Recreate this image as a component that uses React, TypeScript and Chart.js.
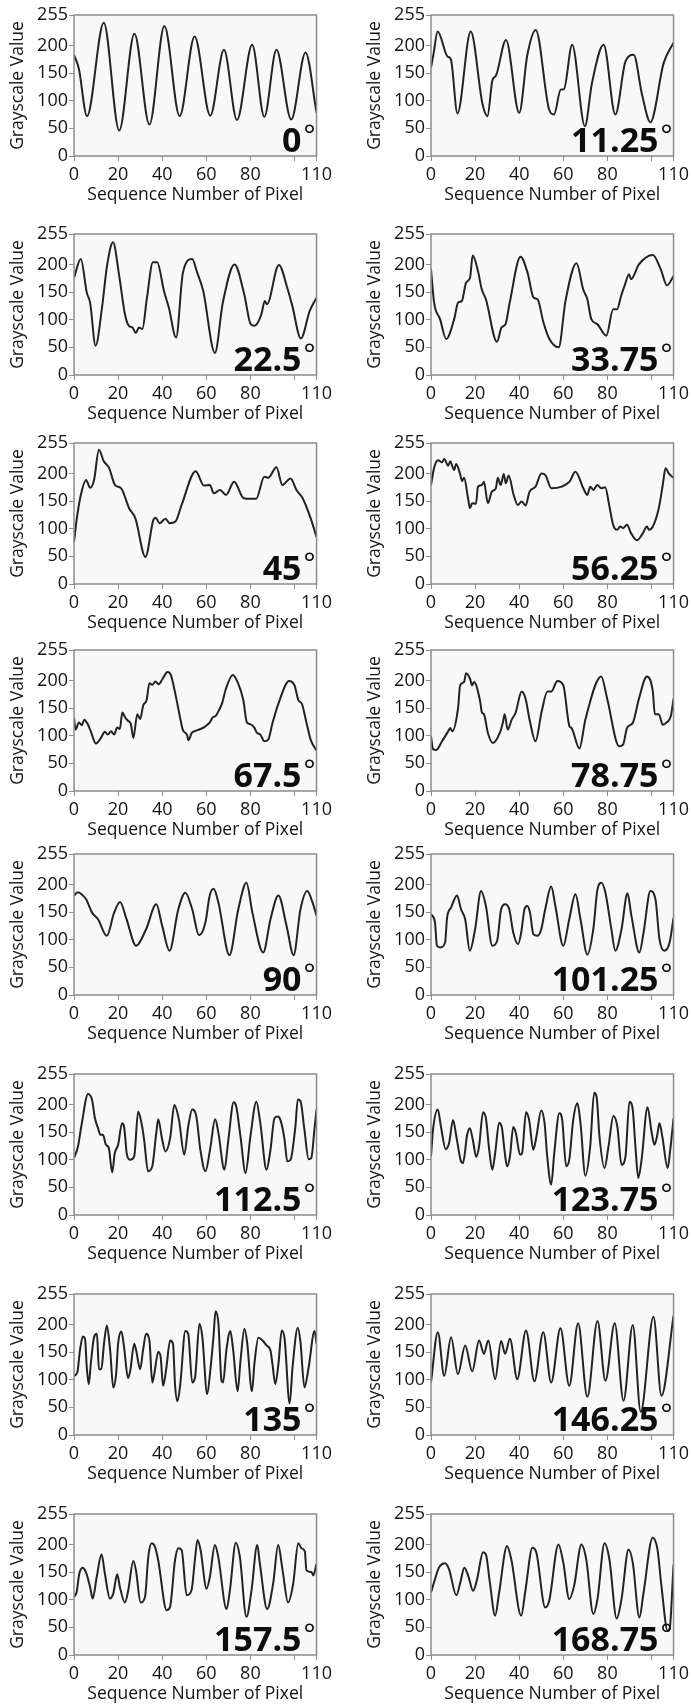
import { useEffect, useRef } from "react";
import { Chart, registerables } from "chart.js";

Chart.register(...registerables);

// ---- data ----
const angleLabels = ["0", "11.25", "22.5", "33.75", "45", "56.25", "67.5", "78.75", "90", "101.25", "112.5", "123.75", "135", "146.25", "157.5", "168.75"];

const xTickValues = [0, 20, 40, 60, 80, 100, 110];
const yTickValues = [0, 50, 100, 150, 200, 255];

const px0 = [0, 2.2, 5.9, 13.5, 20.5, 27.4, 34.2, 41, 47.9, 54.7, 61.8, 68, 73.9, 80.8, 86.3, 91.8, 98.5, 105, 110];
const gv0 = [183, 158, 72, 241, 46, 221, 57, 235, 72, 216, 73, 192, 65, 201, 71, 192, 66, 187, 78];

const px1 = [0, 1.2, 3, 7.5, 9, 12, 18, 23.4, 25.6, 27.9, 29.4, 34, 40, 43.7, 47.5, 53.5, 55.8, 58.8, 60.3, 64, 69.8, 73, 78.3, 83.6, 88.2, 91.9, 95.7, 99.5, 105.5, 110];
const gv1 = [160, 186, 225, 180, 175, 77, 225, 93, 72, 138, 145, 210, 78, 183, 228, 85, 75, 120, 121, 201, 54, 132, 201, 75, 171, 183, 111, 61, 168, 205];

const px2 = [0, 3.1, 5.8, 7.3, 9.8, 12.7, 15, 17.7, 20.4, 23.1, 24.9, 26.5, 28, 29.5, 31, 33, 35.8, 37.7, 40.8, 43, 46.3, 49.4, 53.6, 55.8, 58.6, 63.9, 67.5, 72.8, 77.2, 80.1, 81.9, 85, 86.5, 87.5, 92.9, 96.9, 99, 102.9, 106.9, 110];
const gv2 = [176, 210, 149, 131, 53, 122, 198, 240, 182, 110, 89, 86, 76, 86, 83, 137, 204, 204, 152, 122, 68, 185, 210, 186, 152, 40, 131, 200, 146, 92, 89, 110, 134, 128, 199, 155, 125, 66, 116, 140];

const px3 = [0, 1.4, 4.1, 6.9, 10.5, 12.3, 14, 15.9, 17.7, 18.9, 21.3, 23, 24.9, 29.9, 32, 33.8, 35.7, 40.6, 43.8, 46.5, 48.3, 51, 53.7, 57.9, 61, 66, 69, 70.9, 72.7, 75.4, 79.5, 82.6, 84.4, 86.2, 88, 89.8, 90.7, 94.3, 100.6, 104.2, 107, 110];
const gv3 = [191, 131, 101, 65, 101, 131, 134, 167, 176, 216, 188, 155, 137, 60, 86, 92, 131, 214, 185, 140, 137, 95, 65, 50, 134, 202, 155, 137, 101, 92, 71, 119, 119, 143, 164, 182, 173, 200, 217, 191, 162, 179];

const px4 = [0, 1.3, 3.1, 5.5, 7.3, 9.1, 11.3, 13.5, 15.9, 18.6, 21.4, 25, 27.8, 32.4, 36, 37, 38.8, 41.5, 43.4, 46, 48.8, 55.2, 58.9, 61.6, 63.4, 66.2, 68.9, 72.6, 77, 79.9, 82.6, 86.3, 88.1, 91.8, 94.5, 98.2, 100.9, 103.7, 107.3, 110];
const gv4 = [76, 119, 161, 188, 174, 188, 243, 222, 210, 179, 173, 137, 119, 49, 116, 120, 110, 118, 110, 113, 143, 204, 178, 179, 164, 170, 161, 185, 155, 154, 154, 194, 192, 211, 179, 191, 170, 155, 119, 85];

const px5 = [0, 1.4, 3.2, 5, 6, 7.8, 8.7, 10.5, 11.4, 13.2, 14.1, 15, 16.8, 17.7, 18.6, 20.4, 21.3, 23.1, 24, 25.8, 27.6, 29.4, 30.3, 31.6, 33, 33.9, 35.2, 37.5, 39.3, 41.1, 42.9, 44.7, 47.4, 50.1, 51.9, 54.6, 59.2, 62.8, 65.5, 69.1, 70.9, 72.2, 73.6, 75.4, 77.2, 79, 80.8, 82.6, 84.4, 85.8, 87.1, 88.9, 90.7, 93.4, 96.1, 97.9, 98.8, 100.6, 103.3, 105.1, 106.4, 107.8, 110];
const gv5 = [179, 210, 224, 220, 226, 214, 222, 206, 217, 199, 186, 192, 155, 137, 146, 145, 176, 179, 185, 146, 167, 173, 192, 179, 199, 182, 196, 161, 143, 149, 142, 167, 176, 200, 197, 173, 176, 185, 203, 173, 161, 176, 170, 179, 173, 175, 143, 107, 98, 104, 101, 107, 92, 79, 92, 104, 98, 104, 137, 179, 210, 200, 192];

const px6 = [0, 0.7, 2.2, 3.6, 4.6, 6.2, 7.7, 9.9, 12.2, 14, 15.3, 16.8, 18.2, 19.6, 20.8, 21.9, 23.2, 24.5, 25.8, 26.9, 28.7, 30, 31.4, 32.9, 34.2, 35.5, 36.9, 38.4, 40.2, 42.4, 43.9, 46.1, 47.9, 49.4, 51.2, 51.9, 53.4, 56.1, 58.9, 61.6, 62.9, 64.3, 65.6, 67.1, 68.9, 72, 74.4, 76.8, 78.4, 79.9, 81.7, 83, 84.5, 86.3, 88.1, 89.9, 92.7, 97.6, 100, 101.8, 103.3, 105.4, 107.3, 110];
const gv6 = [133, 111, 124, 119, 129, 121, 107, 86, 96, 107, 102, 108, 102, 115, 112, 142, 133, 127, 121, 96, 139, 130, 155, 164, 195, 192, 198, 193, 203, 215, 210, 173, 137, 110, 102, 92, 105, 110, 115, 124, 133, 136, 145, 158, 185, 210, 195, 164, 124, 121, 115, 105, 102, 90, 93, 121, 158, 199, 191, 164, 158, 124, 93, 73];

const px7 = [0, 0.9, 2.3, 5, 7.8, 8.7, 9.6, 12.3, 13.2, 15, 15.9, 17.7, 18.6, 19.5, 22.2, 23.1, 24, 25.8, 28.1, 31.2, 32.6, 33.4, 34.8, 36.6, 38.4, 41.1, 42.9, 44.7, 47.4, 50.1, 52.8, 54.6, 57.3, 60, 62.8, 63.7, 67.3, 70, 77.2, 79.9, 85.3, 87.1, 88.9, 91.6, 94.3, 97.9, 100.6, 101.5, 103.3, 105.1, 106.9, 108.8, 110];
const gv7 = [99, 76, 74, 90, 108, 114, 108, 151, 191, 197, 213, 203, 191, 197, 164, 142, 139, 105, 87, 105, 124, 139, 111, 129, 142, 180, 167, 129, 90, 142, 180, 180, 199, 191, 117, 114, 77, 129, 207, 167, 81, 84, 114, 124, 167, 207, 180, 139, 139, 120, 124, 136, 167];

const px8 = [0, 1.8, 4, 5.5, 8.2, 10.9, 14.9, 18.2, 20.9, 23.6, 28.2, 32.7, 37.3, 40, 43.3, 47.3, 50.5, 53.6, 56.7, 59.6, 61.5, 63.3, 65.5, 70.5, 74.5, 78.2, 80.9, 85.8, 89.1, 92.7, 96.4, 99.6, 102.7, 105.8, 108.2, 110];
const gv8 = [180, 186, 180, 173, 149, 137, 107, 149, 168, 140, 89, 119, 164, 125, 80, 155, 185, 155, 108, 131, 179, 192, 167, 72, 155, 203, 149, 77, 137, 180, 125, 72, 155, 188, 167, 143];

const px9 = [0, 1.8, 2.7, 4.2, 6.4, 7.3, 9.1, 11.8, 13.6, 15.5, 17.6, 20, 22.7, 24.9, 27.8, 30, 31.8, 33.6, 35.5, 37.3, 39.5, 40.9, 42.4, 43.6, 44.9, 46.4, 48.2, 50, 51.8, 54.5, 56.4, 60, 62.7, 65.5, 67.8, 70.9, 73.6, 75.5, 77.3, 79.1, 81.8, 83.6, 86.4, 89.1, 90.9, 94.5, 96.4, 99.5, 101.8, 103.6, 105.8, 108.2, 110];
const gv9 = [146, 131, 89, 86, 95, 140, 158, 180, 155, 137, 80, 119, 188, 161, 89, 98, 155, 164, 155, 113, 92, 113, 155, 161, 149, 110, 107, 119, 155, 196, 161, 89, 137, 182, 137, 73, 119, 191, 203, 185, 119, 80, 119, 184, 143, 77, 113, 188, 173, 101, 80, 95, 140];

const px10 = [0, 1.8, 3.3, 6.4, 8.2, 9.5, 10.9, 12, 13.1, 14.5, 15.8, 17.3, 18.5, 20, 21.8, 22.7, 24, 25.5, 27.3, 29.1, 30.9, 31.8, 33.6, 35.5, 37.3, 38.2, 40, 41.5, 43.6, 45.5, 47.6, 50, 51.8, 53.6, 55.5, 57.3, 59.6, 61.8, 64, 65.5, 68.2, 70, 72.4, 73.6, 75.5, 77.8, 80, 82.7, 84.5, 87.3, 89.1, 90.9, 92.4, 93.6, 95.5, 96.7, 98.2, 100.4, 101.5, 102.7, 104.5, 106.4, 107.6, 109.1, 110];
const gv10 = [103, 124, 160, 219, 208, 175, 157, 145, 145, 127, 121, 77, 112, 127, 166, 160, 109, 100, 106, 187, 160, 136, 79, 88, 148, 173, 136, 115, 139, 199, 172, 109, 160, 191, 178, 118, 79, 121, 173, 148, 82, 136, 204, 196, 142, 76, 142, 205, 166, 82, 118, 175, 178, 172, 136, 97, 100, 160, 209, 206, 154, 101, 103, 157, 191];

const px11 = [0, 0.9, 3.1, 4.5, 6.7, 8.2, 10, 11.5, 13.6, 14.5, 16.4, 17.6, 19.1, 20.5, 21.8, 23.6, 24.9, 26.4, 27.8, 29.1, 30.9, 32.2, 33.3, 34.5, 35.8, 37.3, 38.5, 40.4, 41.3, 43.1, 44.5, 46.4, 47.8, 50, 51.5, 52.7, 54.5, 55.9, 58.2, 59.5, 61.3, 62.7, 64.5, 66.4, 67.8, 70, 72.2, 74, 75.1, 76.4, 78.7, 80.5, 82.7, 84.5, 86.4, 88.2, 90, 91.5, 92.7, 94, 95.5, 98.2, 100, 101.3, 102.5, 103.6, 104.9, 107.3, 108.5, 110];
const gv11 = [106, 154, 191, 160, 119, 130, 172, 142, 97, 94, 145, 157, 133, 105, 124, 186, 175, 118, 82, 112, 167, 157, 118, 88, 106, 159, 148, 109, 112, 186, 172, 118, 142, 189, 166, 106, 55, 112, 184, 172, 88, 100, 172, 202, 166, 71, 124, 221, 214, 142, 85, 124, 179, 160, 91, 106, 205, 190, 124, 67, 100, 195, 151, 127, 142, 166, 142, 85, 118, 175];

const px12 = [0, 1.5, 2.7, 4, 5, 5.8, 6.7, 7.6, 9.1, 10.4, 11.3, 12.4, 13.6, 14.9, 16.4, 17.8, 19.1, 20, 21.5, 22.7, 24.5, 25.5, 27.3, 28.2, 30, 31.3, 32.7, 34.2, 35.5, 36.4, 38.2, 39.3, 40.4, 41.8, 43.6, 44.9, 45.8, 46.9, 48.2, 50.5, 51.8, 53.6, 54.9, 56.9, 58.2, 60.4, 61.8, 63.3, 64.2, 65.5, 66.9, 67.6, 69.1, 70.9, 72.2, 74.2, 75.5, 77.3, 78.5, 80.7, 81.8, 83.6, 85.5, 87.3, 89.1, 90, 91.3, 92.7, 94.2, 95.5, 97.8, 99.1, 101.5, 102.7, 104.5, 106.4, 109.1, 110];
const gv12 = [107, 113, 153, 178, 174, 122, 92, 128, 177, 183, 119, 119, 165, 198, 153, 86, 110, 165, 187, 159, 103, 116, 165, 153, 119, 153, 183, 171, 95, 110, 150, 141, 89, 119, 171, 165, 92, 61, 92, 188, 183, 95, 104, 201, 177, 74, 116, 180, 224, 201, 98, 95, 153, 188, 153, 79, 134, 192, 168, 79, 128, 176, 171, 162, 153, 128, 92, 128, 189, 174, 57, 122, 194, 168, 86, 122, 188, 165];

const px13 = [0, 3.1, 6, 9.1, 12.2, 15.5, 18.7, 21.8, 24, 26, 29.1, 31.8, 33.6, 35.8, 39.1, 43.1, 46.9, 50.9, 54.5, 58.7, 62.7, 66.7, 70.9, 75.5, 79.1, 83.3, 87.3, 91.5, 95.1, 100.9, 104.5, 110];
const gv13 = [95, 186, 107, 177, 110, 162, 115, 171, 147, 171, 101, 170, 147, 174, 101, 189, 97, 186, 95, 193, 89, 202, 69, 206, 98, 202, 62, 199, 42, 214, 71, 216];

const px14 = [0, 1.2, 2.4, 3.9, 5.4, 7.3, 8.5, 10.3, 12.5, 14, 16.3, 17.8, 19.6, 20.8, 23.1, 24.6, 26.9, 28.1, 30.2, 32.2, 33.7, 35.2, 36.7, 38.2, 42, 43.5, 45.8, 47.3, 48.8, 51.1, 53.3, 54.8, 56, 57.4, 60.1, 61.6, 63.9, 65.4, 69.2, 70.7, 73.4, 75.2, 78.2, 80.5, 83.1, 84.3, 87.6, 90.3, 92.6, 94.6, 97.1, 99.4, 101.7, 103.2, 104.7, 105.4, 107.7, 108.5, 110];
const gv14 = [105, 114, 147, 158, 150, 123, 102, 141, 182, 147, 102, 111, 146, 123, 95, 117, 170, 153, 95, 105, 178, 202, 196, 171, 81, 86, 171, 193, 190, 108, 117, 171, 208, 190, 120, 141, 199, 178, 83, 117, 203, 178, 69, 117, 199, 165, 83, 129, 199, 153, 95, 129, 202, 193, 187, 153, 150, 144, 165];

const px15 = [0, 1.8, 3.6, 6.4, 8.2, 11.5, 13.3, 15.1, 16.9, 19.1, 20.9, 23.6, 24.9, 26.7, 29.1, 30.9, 34.5, 36.4, 40.9, 42.7, 46, 47.8, 51.8, 53.6, 57.8, 60, 62.7, 64.9, 68.2, 70.4, 73.6, 75.5, 78.7, 80.9, 84.2, 86.4, 89.6, 91.5, 94.5, 96.4, 100.5, 102.7, 104.5, 107.3, 108.2, 110];
const gv15 = [113, 137, 158, 166, 155, 108, 131, 158, 143, 116, 137, 186, 182, 131, 71, 113, 197, 173, 71, 113, 194, 185, 86, 98, 200, 167, 101, 125, 200, 173, 74, 101, 202, 173, 66, 101, 191, 167, 68, 113, 212, 191, 125, 44, 47, 164];

const seriesX = [px0, px1, px2, px3, px4, px5, px6, px7, px8, px9, px10, px11, px12, px13, px14, px15];
const seriesY = [gv0, gv1, gv2, gv3, gv4, gv5, gv6, gv7, gv8, gv9, gv10, gv11, gv12, gv13, gv14, gv15];

// ---- layout (positions, not data) ----
const PLOT_TOPS = [15, 234, 443, 650, 854, 1074, 1294, 1514];
const CANVAS_W = 335;
const CANVAS_H = 208;
const PAD_TOP = 15;
const COL_LEFT = [0, 357];

const FONT = '"Open Sans", "DejaVu Sans", sans-serif';
const TEXT = "#141414";
const FRAME = "#8c8c8c";

function Panel({ index }: { index: number }) {
  const ref = useRef<HTMLCanvasElement | null>(null);
  useEffect(() => {
    const canvas = ref.current;
    if (!canvas) return;
    const xs = seriesX[index];
    const ys = seriesY[index];
    const label = angleLabels[index];
    const points = xs.map((x, i) => ({ x, y: ys[i] }));

    const framePlugin = {
      id: "frame" + index,
      beforeDatasetsDraw(chart: any) {
        const a = chart.chartArea;
        const ctx = chart.ctx;
        ctx.save();
        ctx.fillStyle = "#f8f8f8";
        ctx.fillRect(a.left, a.top, a.right - a.left, a.bottom - a.top);
        ctx.restore();
      },
      afterDraw(chart: any) {
        const a = chart.chartArea;
        const ctx = chart.ctx;
        ctx.save();
        ctx.strokeStyle = FRAME;
        ctx.lineWidth = 1.5;
        ctx.strokeRect(a.left, a.top, a.right - a.left, a.bottom - a.top);
        // angle label
        const numRight = a.right - 15;
        const baseline = a.bottom - 4;
        ctx.fillStyle = "#0d0d0d";
        ctx.textAlign = "right";
        ctx.textBaseline = "alphabetic";
        ctx.font = `bold 34px ${FONT}`;
        ctx.fillText(label, numRight, baseline);
        ctx.textAlign = "left";
        ctx.font = `28px ${FONT}`;
        ctx.fillText("\u00B0", numRight + 2, baseline - 7);
        ctx.restore();
      },
    };

    const chart = new Chart(canvas, {
      type: "line",
      data: {
        datasets: [
          {
            data: points,
            borderColor: "#222222",
            borderWidth: 2,
            pointRadius: 0,
            fill: false,
            cubicInterpolationMode: "monotone",
          },
        ],
      },
      options: {
        animation: false,
        responsive: false,
        devicePixelRatio: 1,
        layout: { padding: { top: PAD_TOP, right: 17, bottom: 0, left: 0 } },
        plugins: { legend: { display: false }, tooltip: { enabled: false } },
        scales: {
          x: {
            type: "linear",
            min: 0,
            max: 110,
            afterBuildTicks: (axis: any) => {
              axis.ticks = xTickValues.map((v) => ({ value: v }));
            },
            afterFit: (axis: any) => {
              axis.height = 52;
            },
            border: { display: false },
            grid: { display: true, drawOnChartArea: false, drawTicks: true, tickLength: 5, color: FRAME },
            ticks: {
              autoSkip: false,
              maxRotation: 0,
              padding: 3,
              color: TEXT,
              font: { family: FONT, size: 18 },
              callback: (v: any) => (v === 100 ? "" : String(v)),
            },
            title: {
              display: true,
              text: "Sequence Number of Pixel",
              color: TEXT,
              font: { family: FONT, size: 17.5 },
              padding: { top: 0, bottom: 2 },
            },
          },
          y: {
            type: "linear",
            min: 0,
            max: 255,
            afterBuildTicks: (axis: any) => {
              axis.ticks = yTickValues.map((v) => ({ value: v }));
            },
            afterFit: (axis: any) => {
              axis.width = 74;
            },
            border: { display: false },
            grid: { display: true, drawOnChartArea: false, drawTicks: true, tickLength: 5, color: FRAME },
            ticks: {
              autoSkip: false,
              padding: 1,
              color: TEXT,
              font: { family: FONT, size: 18 },
              callback: (v: any) => String(v),
            },
            title: {
              display: true,
              text: "Grayscale Value",
              color: TEXT,
              font: { family: FONT, size: 17.5 },
              padding: { top: 8, bottom: 0 },
            },
          },
        },
      },
      plugins: [framePlugin],
    } as any);
    return () => chart.destroy();
  }, [index]);

  const row = Math.floor(index / 2);
  const col = index % 2;
  return (
    <canvas
      ref={ref}
      width={CANVAS_W}
      height={CANVAS_H}
      style={{
        position: "absolute",
        left: COL_LEFT[col],
        top: PLOT_TOPS[row] - PAD_TOP,
        width: CANVAS_W,
        height: CANVAS_H,
      }}
    />
  );
}

export default function App() {
  return (
    <div
      style={{
        position: "absolute",
        left: 0,
        top: 0,
        width: 692,
        height: 1708,
        overflow: "hidden",
        background: "#ffffff",
      }}
    >
      {angleLabels.map((_, i) => (
        <Panel key={i} index={i} />
      ))}
    </div>
  );
}
